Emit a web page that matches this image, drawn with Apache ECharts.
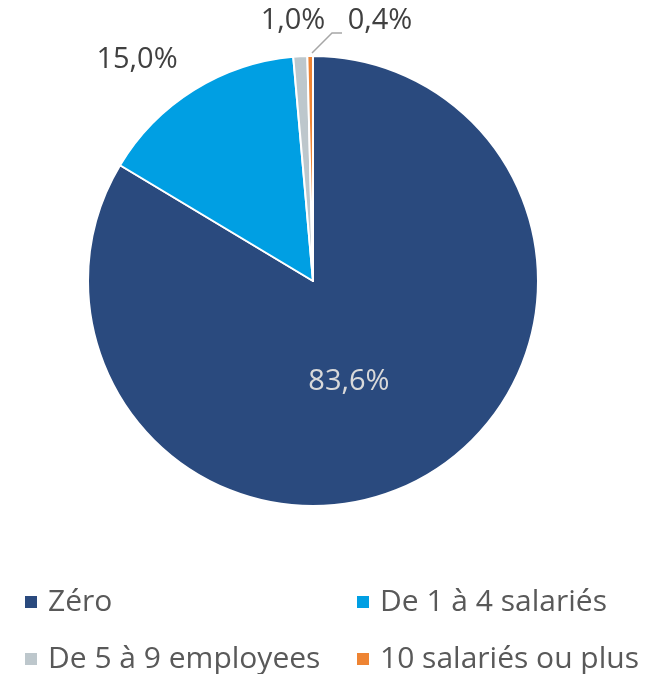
<!DOCTYPE html>
<html>
<head>
<meta charset="utf-8">
<script src="https://cdn.jsdelivr.net/npm/echarts@6/dist/echarts.min.js"></script>
<style>
  html, body { margin: 0; padding: 0; background: #ffffff; }
  #chart { width: 653px; height: 674px; }
</style>
</head>
<body>
<div id="chart"></div>
<script>
// Répartition par nombre de salariés (en %)
const categories = ['Zéro', 'De 1 à 4 salariés', 'De 5 à 9 employees', '10 salariés ou plus'];
const values = [83.6, 15.0, 1.0, 0.4];
const colors = ['#2A4A7E', '#009FE3', '#BDC7CC', '#EE8433'];

const FONT = '"Open Sans", "Noto Sans", sans-serif';

const fmt = v => v.toFixed(1).replace('.', ',') + '%';

const chart = echarts.init(document.getElementById('chart'));

const data = categories.map((name, i) => ({
  name: name,
  value: values[i],
  itemStyle: { color: colors[i] },
  label: i === 0
    ? { position: 'inside', color: '#D9D9D9' }
    : { position: 'outside' },
  labelLine: { show: i === 3 }
}));

// One legend component per entry, laid out in two rows of two columns
const legendSlots = [
  { left: 23, top: 587 },
  { left: 355, top: 587 },
  { left: 23, top: 644 },
  { left: 355, top: 644 }
];
const legends = categories.map((name, i) => ({
  data: [name],
  left: legendSlots[i].left,
  top: legendSlots[i].top,
  padding: 0,
  orient: 'horizontal',
  icon: 'rect',
  itemWidth: 14,
  itemHeight: 14,
  itemGap: 0,
  selectedMode: false,
  textStyle: {
    fontFamily: FONT, fontSize: 30, lineHeight: 30,
    color: '#595959', padding: [0, 0, 0, 5]
  }
}));

chart.setOption({
  animation: false,
  color: colors,
  legend: legends,
  series: [{
    type: 'pie',
    center: [313, 281],
    radius: [0, 225],
    startAngle: 90,
    clockwise: true,
    avoidLabelOverlap: false,
    itemStyle: { borderColor: '#ffffff', borderWidth: 2 },
    label: {
      show: true,
      fontFamily: FONT,
      fontSize: 29,
      color: '#404040',
      formatter: p => fmt(p.value)
    },
    labelLine: { lineStyle: { color: '#A6A6A6', width: 1.5 } },
    labelLayout: function (params) {
      const i = params.dataIndex;
      if (i === 0) {
        return { dx: -21 };
      }
      if (i === 1) {
        return { x: 137, y: 60, align: 'center', verticalAlign: 'middle' };
      }
      if (i === 2) {
        return { x: 293, y: 21, align: 'center', verticalAlign: 'middle' };
      }
      // 0,4 % : label to the right, joined to its slice by a short elbow line
      return {
        x: 380, y: 21, align: 'center', verticalAlign: 'middle',
        labelLinePoints: [[312, 53], [332, 33], [342, 33]]
      };
    },
    data: data
  }]
});
</script>
</body>
</html>
